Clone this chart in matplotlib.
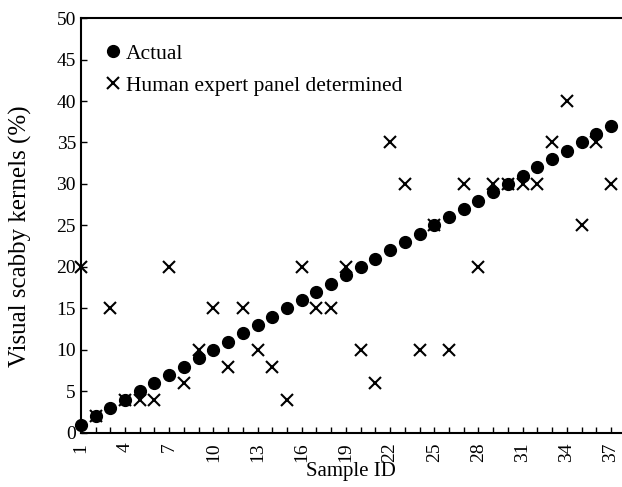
import matplotlib
matplotlib.use("Agg")
import matplotlib.pyplot as plt

plt.rcParams['font.family'] = ['Liberation Serif', 'DejaVu Serif']

# Data
sample_id = list(range(1, 38))
actual = list(range(1, 38))
panel = [20, 2, 15, 4, 4, 4, 20, 6, 10, 15,
         8, 15, 10, 8, 4, 20, 15, 15, 20, 10,
         6, 35, 30, 10, 25, 10, 30, 20, 30, 30,
         30, 30, 35, 40, 25, 35, 30]

fig = plt.figure(figsize=(6.22, 4.87), dpi=100)
ax = fig.add_axes([0.130, 0.111, 0.870, 0.852])

ax.plot(sample_id, actual, 'o', color='black', markersize=8.5, label='Actual', clip_on=False, zorder=3)
ax.plot(sample_id, panel, 'x', color='black', markersize=8, markeredgewidth=1.5,
        label='Human expert panel determined', clip_on=False, zorder=4)

ax.set_xlim(1, 37.75)
ax.set_ylim(0, 50)
ax.set_yticks(range(0, 51, 5))
ax.set_xticks(sample_id)
ax.set_xticklabels([str(s) if (s - 1) % 3 == 0 else '' for s in sample_id], rotation=90)
ax.tick_params(axis='both', direction='in', labelsize=14, width=1, length=4)
ax.tick_params(axis='x', pad=7)

ax.spines['right'].set_visible(False)
for s in ['left', 'bottom', 'top']:
    ax.spines[s].set_linewidth(1.5)

ax.set_xlabel('Sample ID', fontsize=15, labelpad=0)
ax.set_ylabel('Visual scabby kernels (%)', fontsize=18)
ax.yaxis.set_label_coords(-0.09, 0.475)

ax.legend(loc='upper left', bbox_to_anchor=(0.0, 0.985), frameon=False, fontsize=15.5,
          handletextpad=0.0, handlelength=1.2, labelspacing=0.55)

fig.savefig('out.png', dpi=100)
